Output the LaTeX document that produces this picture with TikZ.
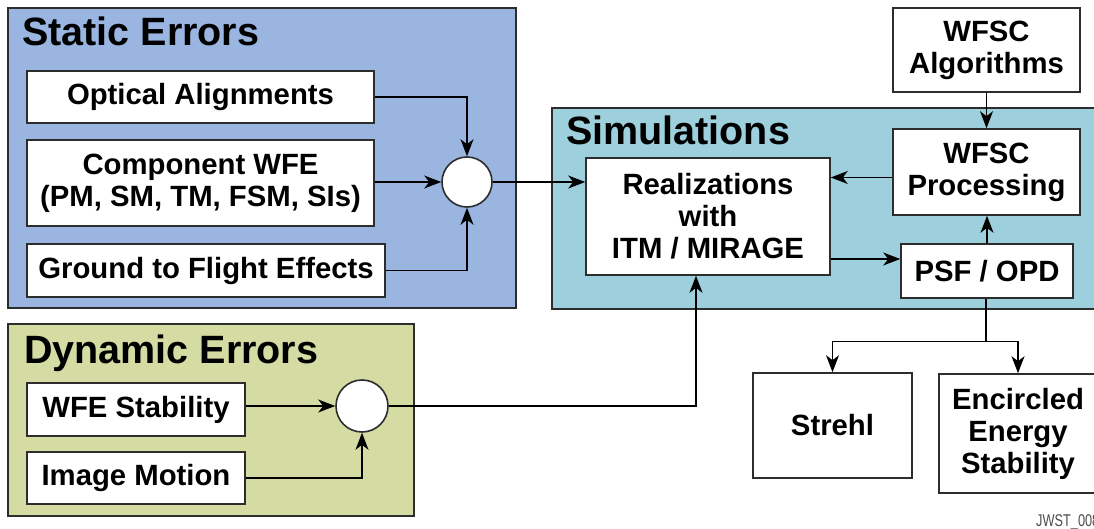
\documentclass[tikz,border=0pt]{standalone}
\usepackage{fontspec}
\setmainfont{Liberation Sans}
\newfontfamily\narrowfont[FakeStretch=0.75]{Liberation Sans}
\usetikzlibrary{arrows.meta,calc}
\definecolor{staticblue}{RGB}{154,182,224}
\definecolor{simteal}{RGB}{157,208,220}
\definecolor{dyngreen}{RGB}{212,220,163}
\definecolor{edgegray}{RGB}{45,45,45}
\begin{document}
\begin{tikzpicture}[x=1pt,y=-1pt,
  panel/.style={draw=edgegray,line width=1.8pt,inner sep=0pt},
  box/.style={draw=edgegray,line width=1.6pt,fill=white,inner sep=0pt,align=center,
    font=\fontsize{29.3}{32}\selectfont\bfseries},
  paneltitle/.style={anchor=base west,inner sep=0pt,font=\fontsize{39.5}{44}\selectfont\bfseries},
  sumnode/.style={circle,draw=edgegray,line width=1.6pt,fill=white,minimum size=50pt,inner sep=0pt},
  arr/.style={draw=black,line width=1.3pt,-{Stealth[length=17pt,width=13pt,inset=5pt]}},
  ln/.style={draw=black,line width=1.3pt}]
\path[use as bounding box,clip] (0,0) rectangle (1094,529);

% panels
\node[panel,fill=staticblue,minimum width=508pt,minimum height=300pt] (static) at (262,158) {};
\node[panel,fill=simteal,minimum width=548pt,minimum height=201pt] (sim) at (826,208.5) {};
\node[panel,fill=dyngreen,minimum width=406pt,minimum height=192pt] (dyn) at (211,420) {};

\node[paneltitle] (statict) at (22,46) {Static Errors};
\node[paneltitle] (simt) at (566,145) {Simulations};
\node[paneltitle] (dynt) at (24,363) {Dynamic Errors};

% static error boxes
\node[box,minimum width=347pt,minimum height=52pt] (opt) at (200.5,97) {Optical Alignments};
\node[box,minimum width=347pt,minimum height=86pt] (comp) at (200.5,183) {Component WFE\\(PM, SM, TM, FSM, SIs)};
\node[box,minimum width=358pt,minimum height=53pt] (gnd) at (206,270.5) {Ground to Flight Effects};
\node[sumnode] (c1) at (467,182) {};

% simulation boxes
\node[box,minimum width=244pt,minimum height=117pt] (real) at (708,216.5) {Realizations\\with\\ITM / MIRAGE};
\node[box,minimum width=187pt,minimum height=86pt] (wproc) at (986.5,172) {WFSC\\Processing};
\node[box,minimum width=172pt,minimum height=54pt] (psf) at (987,271) {PSF / OPD};
\node[box,minimum width=187pt,minimum height=84pt] (walg) at (986.5,50) {WFSC\\Algorithms};

% outputs
\node[box,minimum width=159pt,minimum height=105pt] (strehl) at (832.5,425.5) {Strehl};
\node[box,minimum width=158pt,minimum height=119pt] (ence) at (1018,433.5) {Encircled\\Energy\\Stability};

% dynamic error boxes
\node[box,minimum width=218pt,minimum height=53pt] (wfes) at (136,409.5) {WFE Stability};
\node[box,minimum width=218pt,minimum height=52pt] (imgm) at (136,478) {Image Motion};
\node[sumnode,minimum size=52pt] (c2) at (362,406) {};

% connectors: static
\draw[arr] (opt.east) -| (c1.north);
\draw[arr] (comp.east |- c1.west) -- (c1.west);
\draw[arr] (gnd.east) -| (c1.south);
\draw[arr] (c1.east) -- (c1.east -| real.west);

% connectors: simulations
\coordinate (wp) at ($(wproc.west)+(0,5.5)$);
\draw[arr] (wp) -- (wp -| real.east);
\coordinate (rp) at ($(real.east)+(0,42.5)$);
\draw[arr] (rp) -- (rp -| psf.west);
\draw[arr] (psf.north) -- (psf.north |- wproc.south);
\draw[arr] (walg.south) -- (walg.south |- wproc.north);

% outputs
\coordinate (sp) at ($(psf.south)+(-1,43)$);
\draw[ln] (psf.south -| sp) -- (sp);
\draw[arr] (sp) -| (strehl.north);
\draw[arr] (sp) -| (ence.north);

% connectors: dynamic
\draw[arr] (wfes.east |- c2.west) -- (c2.west);
\draw[arr] (imgm.east) -| (c2.south);
\coordinate (rb) at ($(real.south)+(-12,0)$);
\draw[arr] (c2.east) -| (rb);

\node[anchor=base west,inner sep=0pt,text=black!70,font=\narrowfont\fontsize{17}{20}\selectfont] (tag) at (1036,526) {JWST\_008};
\end{tikzpicture}
\end{document}
